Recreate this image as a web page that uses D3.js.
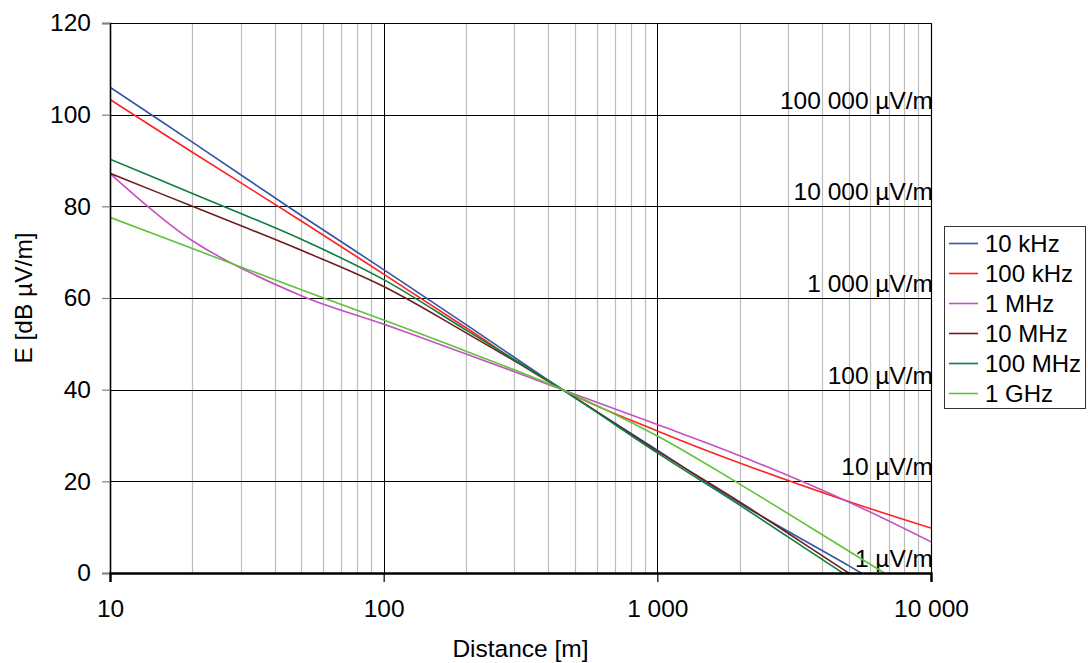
<!DOCTYPE html>
<html>
<head>
<meta charset="utf-8">
<script src="https://cdn.jsdelivr.net/npm/d3@7/dist/d3.min.js"></script>
<style>
  html, body { margin: 0; padding: 0; background: #fff; }
  svg { display: block; font-family: "Liberation Sans", Arial, sans-serif; }
</style>
</head>
<body>
<svg id="chart" width="1088" height="663"></svg>
<script>
// Field strength vs distance for several frequencies
const distances = [10, 20, 50, 100, 200, 450, 1000, 2000, 5000, 10000];

const seriesNames = ["10 kHz", "100 kHz", "1 MHz", "10 MHz", "100 MHz", "1 GHz"];
const seriesColors = ["#3356A8", "#FF2222", "#C452C0", "#6E1E1E", "#0E7E40", "#5EC23A"];

const e10kHz  = [106.0, 94.0, 78.0, 66.2, 54.2, 40.0, 26.8, 15.2, 1.6, -9.0];
const e100kHz = [103.3, 91.8, 76.8, 65.2, 53.5, 40.0, 31.0, 24.0, 15.6, 9.8];
const e1MHz   = [87.2, 72.5, 60.5, 54.3, 47.8, 40.0, 32.4, 25.6, 15.5, 6.8];
const e10MHz  = [87.2, 80.0, 70.4, 62.5, 52.4, 40.0, 26.6, 15.5, 0.0, -11.5];
const e100MHz = [90.3, 82.8, 72.8, 64.0, 53.0, 40.0, 26.2, 14.8, -0.8, -12.0];
const e1GHz   = [77.6, 70.8, 61.8, 55.2, 48.4, 40.0, 29.9, 19.4, 4.8, -6.3];

const seriesValues = [e10kHz, e100kHz, e1MHz, e10MHz, e100MHz, e1GHz];

// Axis ticks and reference level labels
const yTicks = [0, 20, 40, 60, 80, 100, 120];
const xMajorTicks = [10, 100, 1000, 10000];
const xTickLabels = ["10", "100", "1 000", "10 000"];
const levelValues = [0, 20, 40, 60, 80, 100];
const levelLabels = ["1 µV/m", "10 µV/m", "100 µV/m", "1 000 µV/m", "10 000 µV/m", "100 000 µV/m"];

const svg = d3.select("#chart");
const plot = { left: 110, right: 931, top: 23, bottom: 573 };
const fontSize = 24.5;

const x = d3.scaleLog().domain([10, 10000]).range([plot.left, plot.right]);
const y = d3.scaleLinear().domain([0, 120]).range([plot.bottom, plot.top]);

// Minor vertical gridlines (2..9 within each decade)
const minor = [];
[10, 100, 1000].forEach(base => { for (let k = 2; k <= 9; k++) minor.push(base * k); });

svg.append("g")
  .selectAll("line")
  .data(minor)
  .join("line")
  .attr("x1", d => Math.round(x(d)) + 0.5)
  .attr("x2", d => Math.round(x(d)) + 0.5)
  .attr("y1", plot.top)
  .attr("y2", plot.bottom)
  .attr("stroke", "#bdbdbd")
  .attr("stroke-width", 1.2);

// Major vertical gridlines
svg.append("g")
  .selectAll("line")
  .data([100, 1000])
  .join("line")
  .attr("x1", d => Math.round(x(d)) + 0.5)
  .attr("x2", d => Math.round(x(d)) + 0.5)
  .attr("y1", plot.top)
  .attr("y2", plot.bottom)
  .attr("stroke", "#000")
  .attr("stroke-width", 1);

// Horizontal gridlines
svg.append("g")
  .selectAll("line")
  .data(yTicks.filter(v => v > 0))
  .join("line")
  .attr("x1", plot.left)
  .attr("x2", plot.right)
  .attr("y1", d => Math.round(y(d)) + 0.5)
  .attr("y2", d => Math.round(y(d)) + 0.5)
  .attr("stroke", "#000")
  .attr("stroke-width", 1);

// Right border of the plot area
svg.append("line")
  .attr("x1", plot.right + 0.5).attr("x2", plot.right + 0.5)
  .attr("y1", plot.top).attr("y2", plot.bottom)
  .attr("stroke", "#000").attr("stroke-width", 1.2);

// Reference level labels
svg.append("g")
  .selectAll("text")
  .data(levelValues)
  .join("text")
  .attr("x", plot.right + 2)
  .attr("y", d => y(d) - 6)
  .attr("text-anchor", "end")
  .attr("font-size", fontSize)
  .attr("fill", "#000")
  .text((d, i) => levelLabels[i]);

// Curves
svg.append("clipPath").attr("id", "plot-clip")
  .append("rect")
  .attr("x", plot.left).attr("y", plot.top)
  .attr("width", plot.right - plot.left)
  .attr("height", plot.bottom - plot.top);

const line = d3.line()
  .x(d => x(d[0]))
  .y(d => y(d[1]))
  .curve(d3.curveCatmullRom.alpha(0.5));

svg.append("g")
  .attr("clip-path", "url(#plot-clip)")
  .selectAll("path")
  .data(seriesValues)
  .join("path")
  .attr("d", vals => line(distances.map((dd, i) => [dd, vals[i]])))
  .attr("fill", "none")
  .attr("stroke", (d, i) => seriesColors[i])
  .attr("stroke-width", 1.6);

// Y axis
const yAxis = d3.axisLeft(y).tickValues(yTicks).tickSize(8).tickPadding(11);
const gy = svg.append("g").attr("transform", `translate(${plot.left},0)`).call(yAxis);
gy.select(".domain").attr("stroke", "#000").attr("stroke-width", 1.6);
gy.selectAll(".tick line").attr("stroke", "#808080").attr("stroke-width", 1.2);
gy.selectAll(".tick text")
  .attr("font-size", fontSize)
  .attr("font-family", "Liberation Sans, Arial, sans-serif")
  .attr("fill", "#000");

// X axis
const xAxis = d3.axisBottom(x).tickValues(xMajorTicks)
  .tickFormat((d, i) => xTickLabels[i]).tickSize(9).tickPadding(18);
const gx = svg.append("g").attr("transform", `translate(0,${plot.bottom})`).call(xAxis);
gx.select(".domain").attr("stroke", "#000").attr("stroke-width", 2.4);
gx.selectAll(".tick line").attr("stroke", "#000").attr("stroke-width", 1.2);
gx.selectAll(".tick text")
  .attr("font-size", fontSize)
  .attr("font-family", "Liberation Sans, Arial, sans-serif")
  .attr("fill", "#000");

// Axis titles
svg.append("text")
  .attr("x", (plot.left + plot.right) / 2)
  .attr("y", 657)
  .attr("text-anchor", "middle")
  .attr("font-size", fontSize)
  .text("Distance [m]");

svg.append("text")
  .attr("transform", `translate(32,${(plot.top + plot.bottom) / 2}) rotate(-90)`)
  .attr("text-anchor", "middle")
  .attr("font-size", fontSize)
  .text("E [dB µV/m]");

// Legend
const legend = svg.append("g");
legend.append("rect")
  .attr("x", 944.5).attr("y", 226.5)
  .attr("width", 141).attr("height", 182)
  .attr("fill", "#fff")
  .attr("stroke", "#333").attr("stroke-width", 1);

const items = legend.selectAll("g.item")
  .data(seriesNames)
  .join("g")
  .attr("class", "item")
  .attr("transform", (d, i) => `translate(0,${243.5 + i * 30})`);

items.append("line")
  .attr("x1", 949).attr("x2", 978)
  .attr("y1", 0).attr("y2", 0)
  .attr("stroke", (d, i) => seriesColors[i])
  .attr("stroke-width", 1.6);

items.append("text")
  .attr("x", 985)
  .attr("y", 0)
  .attr("dy", "0.35em")
  .attr("font-size", 24)
  .text(d => d);
</script>
</body>
</html>
